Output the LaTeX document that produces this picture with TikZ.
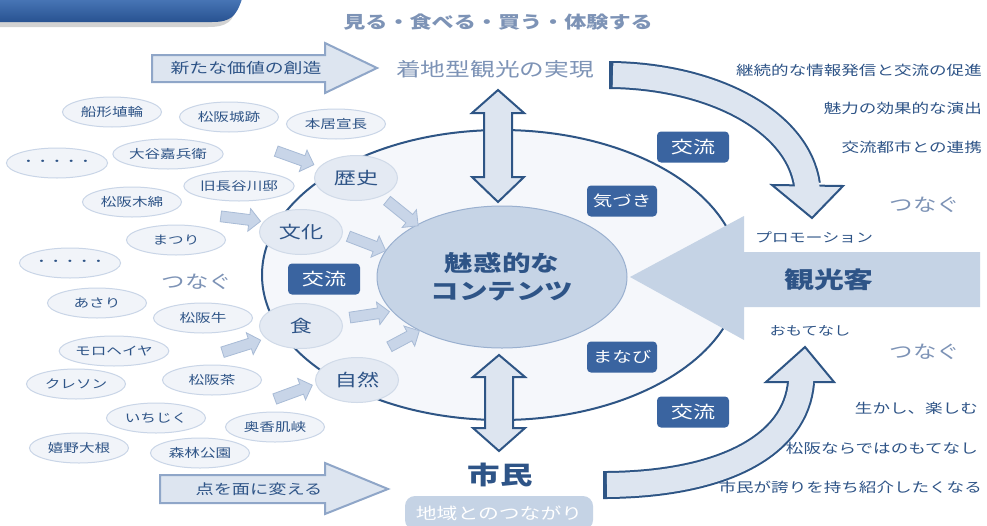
\documentclass[tikz,border=0pt]{standalone}
\usepackage{fontspec}
\setmainfont{Noto Sans CJK JP}[FakeStretch=1.3]
\usetikzlibrary{shapes.geometric,shapes.arrows}
\definecolor{navy}{HTML}{2E5487}
\definecolor{tabblue}{HTML}{3767A8}
\definecolor{boxblue}{HTML}{3A64A0}
\definecolor{darkline}{HTML}{2E5585}
\definecolor{arrowfill}{HTML}{DDE5F0}
\definecolor{lightborder}{HTML}{8FA6C8}
\definecolor{bigfill}{HTML}{F5F7FB}
\definecolor{centerfill}{HTML}{C6D4E6}
\definecolor{centerborder}{HTML}{9AB0CF}
\definecolor{catfill}{HTML}{E4EAF3}
\definecolor{catborder}{HTML}{D0DAE8}
\definecolor{smallfill}{HTML}{F1F4F9}
\definecolor{smallborder}{HTML}{C9D5E7}
\definecolor{sarrowfill}{HTML}{C8D5E8}
\definecolor{sarrowborder}{HTML}{A8BBD6}
\definecolor{guestfill}{HTML}{C5D3E5}
\definecolor{lighttext}{HTML}{7D93B6}
\newcommand\fs[1]{\fontsize{#1}{#1}\selectfont}
\begin{document}
\begin{tikzpicture}[x=1pt,y=-1pt,
  smallell/.style={ellipse, draw=smallborder, fill=smallfill, line width=1pt, minimum width=99pt, minimum height=30pt, inner sep=0pt, text=navy, font=\fs{12}},
  catell/.style={ellipse, draw=catborder, fill=catfill, line width=1pt, minimum width=83pt, minimum height=45pt, inner sep=0pt, text=navy, font=\fs{17}},
  darkbox/.style={rounded corners=4pt, fill=boxblue, text=white, minimum width=72pt, minimum height=31pt, inner sep=0pt},
  smallarrow/.style={single arrow, draw=sarrowborder, fill=sarrowfill, line width=0.8pt, minimum height=40pt, single arrow head extend=6pt, inner xsep=0pt, inner ysep=5pt, sloped},
  flatarrow/.style={fill=arrowfill, draw=lightborder, line width=2pt, line join=miter},
  dblarrow/.style={fill=arrowfill, draw=darkline, line width=2pt, line join=miter},
  txt/.style={inner sep=0pt},
  rtxt/.style={inner sep=0pt, anchor=east, text=navy, font=\fs{13.5}},
  tsu/.style={inner sep=0pt, text=lighttext, font=\fs{18}}
]
\useasboundingbox (0,0) rectangle (987,525);
\fill[white] (0,0) rectangle (987,525);

% top-left tab
\fill[gray, opacity=0.35] (0,4) -- (238,4) .. controls (233,22) and (227,27) .. (208,27) -- (0,27) -- cycle;
\shade[top color={rgb,255:red,72;green,118;blue,182}, bottom color={rgb,255:red,40;green,82;blue,145}] (0,-1) -- (242,-1) .. controls (236,17) and (230,22) .. (212,22) -- (0,22) -- cycle;

% big ellipse
\node[ellipse, draw=darkline, fill=bigfill, line width=2pt, minimum width=478pt, minimum height=290pt, inner sep=0pt] (bigell) at (501,275) {};

% small ellipses
\node[smallell] (e1) at (112,112) {船形埴輪};
\node[smallell] (e2) at (229,117) {松阪城跡};
\node[smallell] (e3) at (336,124) {本居宣長};
\node[smallell] (e4) at (168,154) {大谷嘉兵衛};
\node[smallell, font=\fs{11}] (e5) at (57,163) {・・・・・};
\node[smallell] (e6) at (239,186) {旧長谷川邸};
\node[smallell] (e7) at (132,202) {松阪木綿};
\node[smallell] (e8) at (176,240) {まつり};
\node[smallell, font=\fs{11}] (e9) at (70,263) {・・・・・};
\node[smallell] (e10) at (97,303) {あさり};
\node[smallell] (e11) at (203,318) {松阪牛};
\node[smallell] (e12) at (114,351) {モロヘイヤ};
\node[smallell] (e13) at (76,384) {クレソン};
\node[smallell] (e14) at (212,380) {松阪茶};
\node[smallell] (e15) at (156,418) {いちじく};
\node[smallell] (e16) at (275,427) {奥香肌峡};
\node[smallell] (e17) at (79,448) {嬉野大根};
\node[smallell] (e18) at (200,453) {森林公園};

% category ellipses
\node[catell] (rekishi) at (356,178) {歴史};
\node[catell] (bunka) at (301,232) {文化};
\node[catell] (shoku) at (301,326) {食};
\node[catell] (shizen) at (357,380) {自然};

% center
\node[ellipse, draw=centerborder, fill=centerfill, line width=1pt, minimum width=250pt, minimum height=142pt, inner sep=0pt, align=center, text=navy, font=\bfseries\fs{22}] (center) at (502,277) {魅惑的な\\[6pt]コンテンツ};

% small arrows
\path (273,150) -- (312,164) node[smallarrow, midway] (a1) {};
\path (218,216) -- (258,221) node[smallarrow, midway] (a2) {};
\path (220,353) -- (258,341) node[smallarrow, midway] (a3) {};
\path (272,400) -- (310,386) node[smallarrow, midway] (a4) {};
\path (385,199) -- (416,224) node[smallarrow, midway] (a5) {};
\path (345,235) -- (384,250) node[smallarrow, midway] (a6) {};
\path (347,318) -- (387,312) node[smallarrow, midway] (a7) {};
\path (387,348) -- (417,332) node[smallarrow, midway, minimum height=34pt] (a8) {};

% vertical double arrows
\draw[dblarrow] (498,90) -- (524,113) -- (512,113) -- (512,177) -- (524,177) -- (498,202) -- (472,177) -- (484,177) -- (484,113) -- (472,113) -- cycle;
\draw[dblarrow] (499,355) -- (525,377) -- (513,377) -- (513,428) -- (525,428) -- (499,451) -- (473,428) -- (485,428) -- (485,377) -- (473,377) -- cycle;

% dark boxes
\node[darkbox, font=\fs{17}] (k1) at (693,147) {交流};
\node[darkbox, font=\fs{17}] (k2) at (324,279) {交流};
\node[darkbox, font=\fs{17}] (k3) at (693,412) {交流};
\node[darkbox, minimum width=70pt, font=\fs{15}] (kiz) at (622,201) {気づき};
\node[darkbox, minimum width=70pt, font=\fs{15}] (man) at (622,357) {まなび};

% guest arrow
\fill[guestfill] (630,277) -- (744,216) -- (744,252) -- (980,252) -- (980,307) -- (744,307) -- (744,340) -- cycle;

% curved arrow top-right
\coordinate (c1s) at (613,75);
\coordinate (c1e) at (807,185);
\draw[darkline, line width=28pt] (609,75) -- (c1s) .. controls (715,77) and (798,122) .. (c1e);
\draw[dblarrow] (772,185) -- (843,186) -- (812,218) -- cycle;
\draw[arrowfill, line width=24pt] (c1s) .. controls (715,77) and (798,122) .. (c1e) -- (808,190);

% curved arrow bottom-right
\coordinate (c2s) at (607,485);
\coordinate (c2e) at (801,382);
\draw[darkline, line width=28pt] (603,485) -- (c2s) .. controls (722,484) and (796,446) .. (c2e);
\draw[dblarrow] (766,382) -- (834,382) -- (805,347) -- cycle;
\draw[arrowfill, line width=24pt] (c2s) .. controls (722,484) and (796,446) .. (c2e) -- (801,378);

% flat arrows
\draw[flatarrow] (152,55) -- (325,55) -- (325,43) -- (377,68) -- (325,93) -- (325,82) -- (152,82) -- cycle;
\draw[flatarrow] (160,475) -- (325,475) -- (325,463) -- (388,489) -- (325,514) -- (325,503) -- (160,503) -- cycle;
\node[txt, text=navy, font=\fs{14.5}] (newval) at (246,68) {新たな価値の創造};
\node[txt, text=navy, font=\fs{14}] (tenmen) at (259,489) {点を面に変える};

% top texts
\node[txt, text=lighttext, font=\bfseries\fs{17}] (miru) at (498,22) {見る・食べる・買う・体験する};
\node[txt, text=lighttext, font=\fs{19}] (chaku) at (495,69) {着地型観光の実現};

% bottom
\node[txt, text=navy, font=\bfseries\fs{25}] (shimin) at (500,475) {市民};
\node[rounded corners=10pt, fill=guestfill, minimum width=188pt, minimum height=34pt, inner sep=0pt, text=white, font=\fs{16}] (chiiki) at (499,513) {地域とのつながり};

% right side
\node[txt, text=navy, font=\bfseries\fs{23}] (kanko) at (829,280) {観光客};
\node[txt, text=navy, font=\fs{13}] (promo) at (814,237) {プロモーション};
\node[txt, text=navy, font=\fs{12.5}] (omote) at (810,331) {おもてなし};
\node[tsu] (tsu1) at (925,205) {つなぐ};
\node[tsu] (tsu2) at (925,352) {つなぐ};
\node[tsu] (tsu3) at (197,282) {つなぐ};
\node[rtxt] (r1) at (982,70) {継続的な情報発信と交流の促進};
\node[rtxt] (r2) at (982,108) {魅力の効果的な演出};
\node[rtxt] (r3) at (982,147) {交流都市との連携};
\node[rtxt] (r4) at (978,408) {生かし、楽しむ};
\node[rtxt] (r5) at (978,448) {松阪ならではのもてなし};
\node[rtxt] (r6) at (982,487) {市民が誇りを持ち紹介したくなる};
\end{tikzpicture}
\end{document}
